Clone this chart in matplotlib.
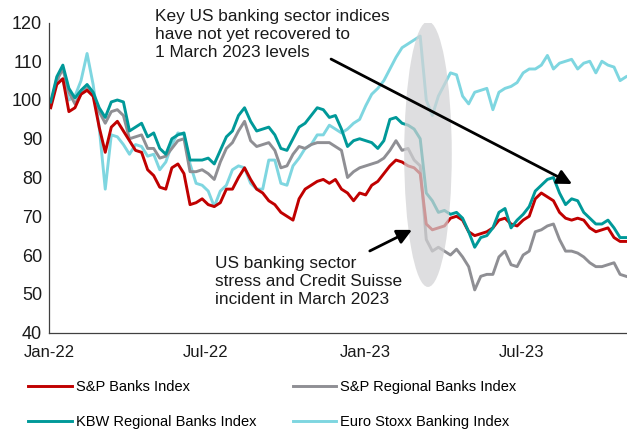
import matplotlib
matplotlib.use("Agg")
import matplotlib.pyplot as plt
import matplotlib.dates as mdates
from matplotlib.patches import Ellipse
import pandas as pd

plt.rcParams['font.family'] = ['Liberation Sans', 'DejaVu Sans']

dates = pd.date_range('2022-01-03', periods=96, freq='W-MON')

sp_banks = [98, 104, 105.5, 97, 98, 101.5, 102.5, 101, 93, 86.5,
            93, 94.5, 92, 89.5, 87, 86.5, 82, 80.5, 77.5, 77,
            82.5, 83.5, 81, 73, 73.5, 74.5, 73, 72.5, 73.5, 77,
            77, 80, 82.5, 79.5, 77, 76, 74, 73, 71, 70,
            69, 74.5, 77, 78, 79, 79.5, 78.5, 79.5, 77, 76,
            74, 76, 75.5, 78, 79, 81, 83, 84.5, 84, 83,
            82.5, 81, 68, 66.5, 67, 67.5, 69.5, 70, 69, 66,
            65, 65.5, 66, 67, 69, 69.5, 68, 67.5, 69, 70,
            74.5, 76, 75, 74, 71, 69.5, 69, 69.5, 69, 67,
            66, 66.5, 67, 64.5, 63.5, 63.5]

sp_regional = [99, 105, 108, 102, 99, 101.5, 103, 101, 97, 94,
               97, 97.5, 96, 90, 90.5, 91, 87.5, 87.5, 85, 85.5,
               87.5, 89.5, 90, 81.5, 81.5, 82, 81, 79.5, 84, 87.5,
               89, 92, 94.5, 89.5, 88, 88.5, 89, 87, 82.5, 83,
               86, 88, 87.5, 88.5, 89, 89, 89, 88, 87, 80,
               81.5, 82.5, 83, 83.5, 84, 85, 87, 89.5, 87, 87.5,
               84.5, 83, 64, 61, 62, 61, 60, 61.5, 59.5, 57,
               51, 54.5, 55, 55, 59.5, 61, 57.5, 57, 60, 61,
               66, 66.5, 67.5, 68, 64, 61, 61, 60.5, 59.5, 58,
               57, 57, 57.5, 58, 55, 54.5]

kbw_regional = [99.5, 106, 109, 103, 100.5, 102.5, 104, 102, 98, 95.5,
                99.5, 100, 99.5, 92, 93, 94, 90.5, 91.5, 87.5, 86,
                90, 91, 91.5, 84.5, 84.5, 84.5, 85, 83.5, 87, 90.5,
                92, 96, 98, 94.5, 92, 92.5, 93, 91, 87.5, 87,
                90, 93, 94, 96, 98, 97.5, 95.5, 96, 92.5, 88,
                89.5, 90, 89.5, 89, 87.5, 89.5, 95, 95.5, 94, 93.5,
                92.5, 90, 76, 74, 71, 71.5, 70.5, 71, 69.5, 66,
                62, 64.5, 65, 67, 71, 72, 67, 69, 70.5, 72.5,
                76.5, 78, 79.5, 80, 76, 73, 74.5, 74, 71, 69.5,
                68, 68, 69, 67, 64.5, 64.5]

euro_stoxx = [99, 105.5, 105, 100, 101, 105, 112, 104, 93, 77,
              91, 90.5, 88.5, 86, 88.5, 88, 85.5, 86, 82, 84,
              88.5, 91.5, 91, 83.5, 78.5, 78, 76.5, 72.5, 76.5, 78,
              82, 83, 82.5, 78.5, 77, 77, 84.5, 84.5, 78.5, 78,
              83, 85, 87.5, 88.5, 91, 91, 93.5, 92.5, 91.5, 92.5,
              94, 95, 98.5, 101.5, 103, 105, 108, 111, 113.5, 114.5,
              115.5, 116.5, 100, 96, 101, 104, 107, 106.5, 101, 99,
              102, 102.5, 103, 97.5, 102, 103, 103.5, 104.5, 107, 108,
              108, 109, 111.5, 108, 109.5, 110, 110.5, 108, 109.5, 110,
              107, 110, 109, 108.5, 105, 106]

series_names = ['S&P Banks Index', 'S&P Regional Banks Index',
                'KBW Regional Banks Index', 'Euro Stoxx Banking Index']
series_colors = ['#C00000', '#8F8F94', '#009999', '#7ED6E0']
tick_dates = ['2022-01-01', '2022-07-01', '2023-01-01', '2023-07-01']
tick_labels = ['Jan-22', 'Jul-22', 'Jan-23', 'Jul-23']
y_ticks = [40, 50, 60, 70, 80, 90, 100, 110, 120]

fig = plt.figure(figsize=(6.27, 4.32), dpi=100)
ax = fig.add_axes([49/627, 1-332.5/432, 578/627, 310/432])

data = [sp_banks, sp_regional, kbw_regional, euro_stoxx]
order = [3, 1, 0, 2]
handles = {}
for i in order:
    ln, = ax.plot(dates, data[i], color=series_colors[i], lw=2.1,
                  label=series_names[i], solid_joinstyle='round')
    handles[i] = ln

ax.set_xlim(pd.Timestamp('2022-01-01'), pd.Timestamp('2023-10-31'))
ax.set_ylim(40, 120)
ax.set_yticks(y_ticks)
ax.set_xticks([pd.Timestamp(d) for d in tick_dates])
ax.set_xticklabels(tick_labels)
ax.tick_params(axis='both', length=0, colors='#1a1a1a')
ax.tick_params(axis='x', labelsize=12, pad=9)
ax.tick_params(axis='y', labelsize=13, pad=5)
for s in ['top', 'right']:
    ax.spines[s].set_visible(False)
for s in ['left', 'bottom']:
    ax.spines[s].set_color('#404040')
    ax.spines[s].set_linewidth(0.9)

# highlight ellipse around March 2023 stress
cx = mdates.date2num(pd.Timestamp('2023-03-15'))
ell = Ellipse((cx, 86), width=55, height=68.5, facecolor='#D2D2D4',
              edgecolor='none', alpha=0.72, zorder=5)
ax.add_patch(ell)

# annotations
ax.annotate('', xy=(0.905, 0.479), xycoords='axes fraction',
            xytext=(0.488, 0.882), textcoords='axes fraction',
            arrowprops=dict(arrowstyle='-|>', color='black', lw=2.0,
                            mutation_scale=22, shrinkA=0, shrinkB=0),
            zorder=6)
ax.annotate('', xy=(0.628, 0.331), xycoords='axes fraction',
            xytext=(0.555, 0.263), textcoords='axes fraction',
            arrowprops=dict(arrowstyle='-|>', color='black', lw=2.0,
                            mutation_scale=22, shrinkA=0, shrinkB=0),
            zorder=6)

fig.text(155/627, 1-9/432, 'Key US banking sector indices\nhave not yet recovered to\n1 March 2023 levels',
         fontsize=12.4, va='top', ha='left', color='#1a1a1a', linespacing=1.27)
fig.text(215/627, 1-256/432, 'US banking sector\nstress and Credit Suisse\nincident in March 2023',
         fontsize=12.4, va='top', ha='left', color='#1a1a1a', linespacing=1.27)

leg_order = [0, 2, 1, 3]
fig.legend([handles[i] for i in leg_order], [series_names[i] for i in leg_order],
           loc='upper left', bbox_to_anchor=(28/627, 1-380/432), ncol=2,
           frameon=False, fontsize=10.5, handlelength=3.0, handletextpad=0.27,
           columnspacing=2.5, labelspacing=1.42, borderaxespad=0, borderpad=0)

fig.savefig('out.png', dpi=100)
